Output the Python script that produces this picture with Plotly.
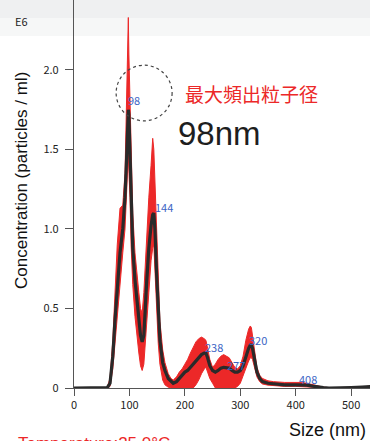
import plotly.graph_objects as go

size_nm = [0, 50, 60, 65, 70, 74, 78, 83, 88, 92, 95, 97, 98, 99, 101, 103, 106, 110, 113, 117,
           120, 123, 126, 131, 135, 139, 142, 144, 146, 149, 152, 155, 160, 164, 170, 175, 179, 185, 190, 195,
           200, 205, 210, 215, 220, 225, 230, 235, 238, 241, 245, 250, 255, 260, 265, 270, 275, 280, 285, 290,
           295, 300, 305, 310, 315, 318, 320, 322, 325, 330, 335, 340, 350, 360, 380, 400, 410, 420, 430, 440,
           450, 460, 480, 500, 520, 540]
mean_conc = [0, 0, 0.002, 0.03, 0.2, 0.43, 0.65, 0.85, 1.0, 1.2, 1.45, 1.68, 1.75, 1.72, 1.45, 1.15, 0.88, 0.68, 0.57, 0.42,
             0.33, 0.29, 0.33, 0.66, 0.88, 1.02, 1.09, 1.10, 1.0, 0.72, 0.45, 0.30, 0.16, 0.11, 0.06, 0.04, 0.03, 0.04, 0.06, 0.08,
             0.1, 0.11, 0.13, 0.15, 0.17, 0.19, 0.21, 0.22, 0.22, 0.19, 0.14, 0.11, 0.1, 0.11, 0.125, 0.13, 0.13, 0.125, 0.11, 0.1,
             0.1, 0.11, 0.14, 0.2, 0.25, 0.27, 0.27, 0.25, 0.19, 0.1, 0.06, 0.04, 0.03, 0.025, 0.02, 0.02, 0.02, 0.018, 0.012, 0.006,
             0.002, 0, 0, 0.003, 0.006, 0.01]
upper_conc = [0, 0, 0.005, 0.06, 0.3, 0.58, 0.9, 1.13, 1.15, 1.35, 1.9, 2.33, 2.33, 2.1, 1.85, 1.45, 1.1, 0.85, 0.72, 0.6,
              0.5, 0.47, 0.6, 0.95, 1.2, 1.4, 1.57, 1.5, 1.3, 0.95, 0.62, 0.42, 0.24, 0.16, 0.09, 0.06, 0.05, 0.07, 0.1, 0.12,
              0.15, 0.18, 0.22, 0.26, 0.29, 0.31, 0.32, 0.31, 0.3, 0.25, 0.18, 0.13, 0.15, 0.18, 0.2, 0.21, 0.2, 0.19, 0.16, 0.13,
              0.12, 0.14, 0.2, 0.3, 0.37, 0.39, 0.38, 0.33, 0.24, 0.13, 0.08, 0.06, 0.045, 0.04, 0.035, 0.035, 0.035, 0.03, 0.022, 0.012,
              0.005, 0.002, 0.001, 0.004, 0.008, 0.012]
lower_conc = [0, 0, 0, 0.01, 0.12, 0.3, 0.45, 0.65, 0.85, 1.0, 1.2, 1.4, 1.45, 1.4, 1.2, 0.9, 0.65, 0.45, 0.35, 0.22,
              0.14, 0.11, 0.15, 0.4, 0.6, 0.8, 0.88, 0.9, 0.8, 0.5, 0.28, 0.15, 0.05, 0.02, 0.005, 0, 0, 0, 0, 0,
              0, 0, 0, 0, 0.02, 0.05, 0.09, 0.12, 0.13, 0.1, 0.06, 0.03, 0, 0, 0, 0, 0, 0, 0, 0,
              0.01, 0.03, 0.08, 0.12, 0.17, 0.19, 0.19, 0.18, 0.14, 0.07, 0.04, 0.025, 0.018, 0.015, 0.01, 0.01, 0.01, 0.008, 0.005, 0.002,
              0, 0, 0, 0.002, 0.004, 0.008]

peak_labels = ["98", "144", "238", "277", "320", "408"]
peak_x = [108, 162, 253, 292, 332, 422]
peak_y = [1.81, 1.14, 0.26, 0.145, 0.30, 0.057]

x_ticks = [0, 100, 200, 300, 400, 500]
y_ticks = [0, 0.5, 1.0, 1.5, 2.0]
y_tick_text = ["0", "0.5", "1.0", "1.5", "2.0"]

assert len(size_nm) == len(mean_conc) == len(upper_conc) == len(lower_conc)

RED = "#ec2828"
fig = go.Figure()
fig.add_trace(go.Scatter(
    x=size_nm + size_nm[::-1], y=upper_conc + lower_conc[::-1],
    fill="toself", fillcolor=RED, line=dict(color=RED, width=1),
    mode="lines", hoverinfo="skip", showlegend=False))
fig.add_trace(go.Scatter(
    x=size_nm, y=mean_conc, mode="lines",
    line=dict(color="#2a2a2a", width=3.2), showlegend=False))

for t, xx, yy in zip(peak_labels, peak_x, peak_y):
    fig.add_annotation(x=xx, y=yy, text=t, showarrow=False, xanchor="center", yanchor="middle",
                       font=dict(family="Noto Sans CJK JP", size=11, color="#3b63c4"))

W, H = 370, 441
L, B = 74, 53
pw, ph = W - L, H - B
def px(p):
    return (p - L) / pw
def py(p):
    return (H - B - p) / ph

# light scan tint at top
fig.add_shape(type="rect", xref="paper", yref="paper", x0=px(0), x1=px(370), y0=py(18), y1=py(0),
              fillcolor="#eff0f1", line_width=0, layer="below")
fig.add_shape(type="rect", xref="paper", yref="paper", x0=px(0), x1=px(370), y0=py(36), y1=py(18),
              fillcolor="#f6f7f7", line_width=0, layer="below")

fig.add_shape(type="circle", xref="x", yref="y", x0=76, x1=177, y0=1.68, y1=2.03,
              line=dict(color="#444444", width=1.2, dash="3px,3px"))

def note(xp, yp, text, font, xanchor="center", yanchor="middle", angle=0):
    fig.add_annotation(xref="paper", yref="paper", x=px(xp), y=py(yp), text=text, textangle=angle,
                       showarrow=False, xanchor=xanchor, yanchor=yanchor, font=font)

note(251, 93, "最大頻出粒子径", dict(family="Noto Sans CJK JP", size=19, color=RED))
note(219, 133, "98nm", dict(family="Liberation Sans", size=33, color="#1e1e1e"))
note(21, 21, "E6", dict(family="Noto Sans CJK JP", size=11, color="#222222"))
note(21, 181, "Concentration (particles / ml)", dict(family="Liberation Sans", size=17, color="#111111"), angle=-90)
note(368, 430, "Size (nm)", dict(family="Liberation Sans", size=18, color="#111111"), xanchor="right")
note(16, 432, "Temperature:25.0°C", dict(family="Liberation Sans", size=17, color=RED), xanchor="left", yanchor="top")

fig.update_xaxes(range=[0, 534], tickvals=x_ticks, ticks="outside", ticklen=7, tickcolor="#555555",
                 showline=True, linecolor="#555555", linewidth=1.2, showgrid=False, zeroline=False,
                 tickfont=dict(family="Noto Sans CJK JP", size=11, color="#222222"))
fig.update_yaxes(range=[0, 2.44], tickvals=y_ticks, ticktext=y_tick_text, ticks="outside", ticklen=8,
                 tickcolor="#555555", showline=True, linecolor="#555555", linewidth=1.2, showgrid=False,
                 zeroline=False, ticklabelstandoff=4,
                 tickfont=dict(family="Noto Sans CJK JP", size=11, color="#222222"))
fig.update_layout(width=W, height=H, margin=dict(l=L, r=0, t=0, b=B),
                  paper_bgcolor="white", plot_bgcolor="white")
fig.write_html("out.html")
